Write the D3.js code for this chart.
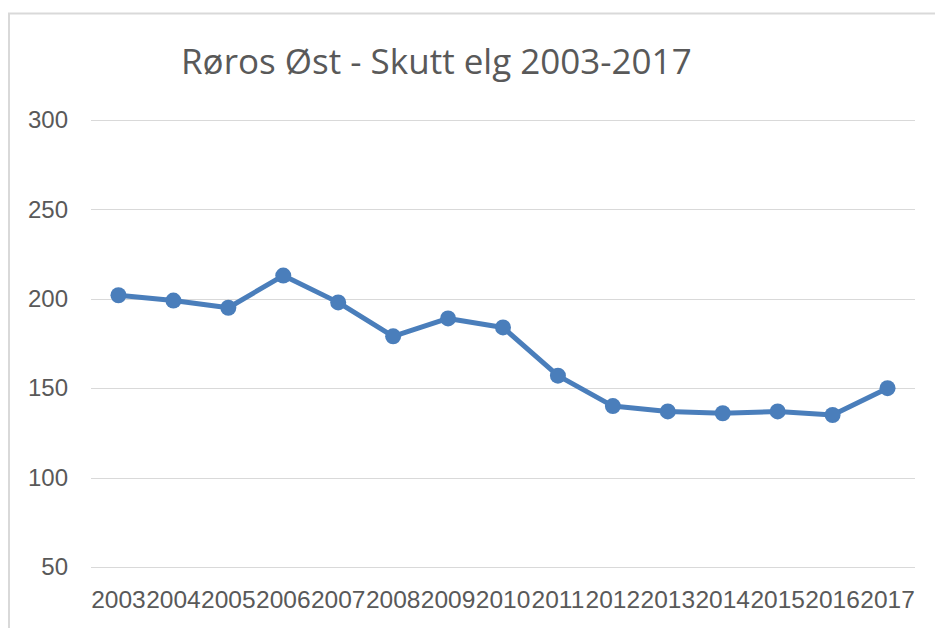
<!DOCTYPE html>
<html>
<head>
<meta charset="utf-8">
<script src="https://cdn.jsdelivr.net/npm/d3@7"></script>
<style>
  body { margin: 0; background: #fff; }
  svg { display: block; }
</style>
</head>
<body>
<svg id="chart" width="935" height="628"></svg>
<script>
// Røros Øst - shot moose per year
const years = ["2003", "2004", "2005", "2006", "2007", "2008", "2009", "2010",
               "2011", "2012", "2013", "2014", "2015", "2016", "2017"];
const shot = [202, 199, 195, 213, 198, 179, 189, 184, 157, 140, 137, 136, 137, 135, 150];
const yTicks = [50, 100, 150, 200, 250, 300];

const width = 935, height = 628;
const margin = {top: 120, right: 20, bottom: 61, left: 91};
const textColor = "#595959";
const lineColor = "#4a7ebb";

const svg = d3.select("#chart");

// outer chart border (only top and left visible)
svg.append("path")
    .attr("d", "M9,628 V13.5 H935")
    .attr("fill", "none")
    .attr("stroke", "#d9d9d9")
    .attr("stroke-width", 2);

const x = d3.scaleBand()
    .domain(years)
    .range([margin.left, width - margin.right]);

const y = d3.scaleLinear()
    .domain([50, 300])
    .range([height - margin.bottom, margin.top]);

// gridlines
svg.append("g")
    .selectAll("line")
    .data(yTicks).enter()
    .append("line")
    .attr("x1", margin.left)
    .attr("x2", width - margin.right)
    .attr("y1", d => Math.round(y(d)) + 0.5)
    .attr("y2", d => Math.round(y(d)) + 0.5)
    .attr("stroke", "#d9d9d9")
    .attr("stroke-width", 1.2);

// y axis labels
const yAxis = svg.append("g")
    .attr("transform", "translate(" + (margin.left - 23) + ",0)")
    .call(d3.axisLeft(y).tickValues(yTicks).tickSize(0).tickPadding(0));
yAxis.select(".domain").remove();
yAxis.selectAll("text")
    .style("font-family", "'Liberation Sans', Arial, sans-serif")
    .style("font-size", "24px")
    .style("fill", textColor);

// x axis labels
const xAxis = svg.append("g")
    .attr("transform", "translate(0," + (height - margin.bottom) + ")")
    .call(d3.axisBottom(x).tickSize(0).tickPadding(24));
xAxis.select(".domain").remove();
xAxis.selectAll("text")
    .style("font-family", "'Liberation Sans', Arial, sans-serif")
    .style("font-size", "24.5px")
    .style("fill", textColor);

const cx = d => x(d) + x.bandwidth() / 2;

// line
svg.append("path")
    .datum(shot)
    .attr("fill", "none")
    .attr("stroke", lineColor)
    .attr("stroke-width", 5)
    .attr("stroke-linejoin", "round")
    .attr("d", d3.line()
        .x((d, i) => cx(years[i]))
        .y(d => y(d)));

// markers
svg.append("g")
    .selectAll("circle")
    .data(shot).enter()
    .append("circle")
    .attr("cx", (d, i) => cx(years[i]))
    .attr("cy", d => y(d))
    .attr("r", 8)
    .attr("fill", lineColor);

// title
svg.append("text")
    .text("Røros Øst - Skutt elg 2003-2017")
    .attr("x", 181)
    .attr("y", 74)
    .style("font-family", "'Open Sans', 'Liberation Sans', sans-serif")
    .style("font-size", "35px")
    .style("fill", textColor);
</script>
</body>
</html>
